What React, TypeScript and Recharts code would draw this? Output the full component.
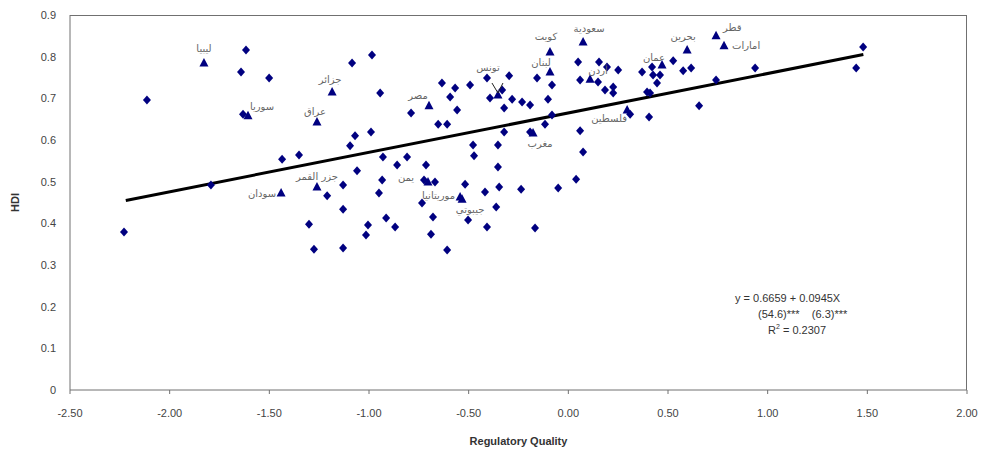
import React from 'react';
import { ScatterChart, Scatter, XAxis, YAxis } from 'recharts';

// Regulatory Quality (x) and HDI (y) for non-Arab countries
const otherRQ = [
  -2.114, -2.229, -1.793, -1.617, -1.642, -1.501, -1.632, -1.085, -1.07, -1.095,
  -1.436, -1.351, -1.06, -1.21, -1.13, -1.13, -1.301, -1.276, -1.13,
  -0.985, -0.944, -0.634, -0.568, -0.593, -0.493, -0.789, -0.558, -0.653, -0.608,
  -0.99, -0.408, -0.297, -0.332, -0.393, -0.282, -0.232, -0.192, -0.322, -0.157,
  -0.102, -0.082, -0.082, -0.117, 0.049, 0.154, 0.059, 0.149, 0.059, -0.192,
  -0.322, -0.478, -0.353, -0.93, -0.859, -0.809, -0.714, -0.473, -0.353, 0.074,
  -0.934, -0.95, -0.724, -0.669, -0.518, -0.418, -0.347, -0.237, -0.051, 0.039,
  -0.734, -0.362, -0.679, -0.503, -1.005, -0.914, -0.167, -0.869, -1.015, -0.689,
  -0.608, -0.408,
  0.194, 0.25, 0.37, 0.42, 0.425, 0.46, 0.445, 0.526, 0.576, 0.616,
  0.225, 0.184, 0.225, 0.395, 0.41, 0.741, 0.937, 1.479, 1.444, 0.656,
  0.31, 0.405,
];
const otherHDI = [
  0.696, 0.379, 0.492, 0.816, 0.763, 0.749, 0.662, 0.785, 0.61, 0.586,
  0.554, 0.564, 0.526, 0.466, 0.492, 0.434, 0.398, 0.338, 0.341,
  0.804, 0.713, 0.737, 0.725, 0.703, 0.732, 0.665, 0.672, 0.638, 0.638,
  0.619, 0.749, 0.754, 0.72, 0.701, 0.698, 0.691, 0.684, 0.677, 0.749,
  0.698, 0.732, 0.66, 0.638, 0.787, 0.787, 0.744, 0.739, 0.622, 0.619,
  0.619, 0.588, 0.588, 0.559, 0.54, 0.559, 0.54, 0.562, 0.535, 0.571,
  0.504, 0.473, 0.504, 0.499, 0.494, 0.475, 0.487, 0.482, 0.485, 0.506,
  0.449, 0.439, 0.415, 0.408, 0.396, 0.413, 0.389, 0.391, 0.372, 0.374,
  0.336, 0.391,
  0.775, 0.768, 0.763, 0.775, 0.756, 0.756, 0.737, 0.79, 0.766, 0.773,
  0.727, 0.72, 0.713, 0.715, 0.713, 0.744, 0.773, 0.823, 0.773, 0.682,
  0.662, 0.655,
];

// Arab countries
const arabNames = [
  'ليبيا', 'سوريا', 'عراق', 'جزائر', 'سودان', 'جزر القمر', 'مصر', 'تونس',
  'كويت', 'لبنان', 'سعودية', 'أردن', 'فلسطين', 'مغرب', 'يمن', 'موريتانيا',
  'جيبوتي', 'عمان', 'بحرين', 'قطر', 'امارات',
];
const arabRQ = [
  -1.828, -1.607, -1.261, -1.185, -1.441, -1.261, -0.699, -0.353,
  -0.092, -0.092, 0.074, 0.109, 0.295, -0.177, -0.704, -0.543,
  -0.533, 0.47, 0.596, 0.741, 0.781,
];
const arabHDI = [
  0.785, 0.658, 0.643, 0.715, 0.473, 0.487, 0.682, 0.708,
  0.811, 0.763, 0.835, 0.746, 0.672, 0.617, 0.499, 0.463,
  0.458, 0.78, 0.816, 0.85, 0.826,
];

// fitted line end points as drawn
const trendRQ = [-2.22, 1.48];
const trendHDI = [0.455, 0.805];

const xTicks = [-2.5, -2, -1.5, -1, -0.5, 0, 0.5, 1, 1.5, 2];
const yTicks = [0, 0.1, 0.2, 0.3, 0.4, 0.5, 0.6, 0.7, 0.8, 0.9];

const otherData = otherRQ.map((x, i) => ({ x, y: otherHDI[i] }));
const arabData = arabNames.map((name, i) => ({ name, x: arabRQ[i], y: arabHDI[i] }));
const trendData = trendRQ.map((x, i) => ({ x, y: trendHDI[i] }));

// label placement next to each triangle (px)
const labelPlace: Record<string, { dx: number; dy: number; anchor: 'start' | 'middle' | 'end' }> = {
  'ليبيا': { dx: 0, dy: -14, anchor: 'middle' },
  'سوريا': { dx: 14, dy: -9, anchor: 'middle' },
  'عراق': { dx: -2, dy: -11, anchor: 'middle' },
  'جزائر': { dx: -2, dy: -13, anchor: 'middle' },
  'سودان': { dx: -5, dy: 1, anchor: 'end' },
  'جزر القمر': { dx: 0, dy: -11, anchor: 'middle' },
  'مصر': { dx: -11, dy: -10, anchor: 'middle' },
  'تونس': { dx: -10, dy: -28, anchor: 'middle' },
  'كويت': { dx: -4, dy: -16, anchor: 'middle' },
  'لبنان': { dx: -9, dy: -10, anchor: 'middle' },
  'سعودية': { dx: 6, dy: -14, anchor: 'middle' },
  'أردن': { dx: 8, dy: -9, anchor: 'middle' },
  'فلسطين': { dx: -18, dy: 8, anchor: 'middle' },
  'مغرب': { dx: 7, dy: 11, anchor: 'middle' },
  'يمن': { dx: -22, dy: -5, anchor: 'middle' },
  'موريتانيا': { dx: -5, dy: -2, anchor: 'end' },
  'جيبوتي': { dx: 8, dy: 10, anchor: 'middle' },
  'عمان': { dx: -8, dy: -8, anchor: 'middle' },
  'بحرين': { dx: -4, dy: -14, anchor: 'middle' },
  'قطر': { dx: 7, dy: -8, anchor: 'start' },
  'امارات': { dx: 8, dy: 0, anchor: 'start' },
};

const NAVY = '#000080';
const FRAME = '#707070';
const FONT = '"Liberation Sans", "DejaVu Sans", Arial, sans-serif';

const Diamond = (p: any) => (
  <polygon
    points={`${p.cx},${p.cy - 4.5} ${p.cx + 4},${p.cy} ${p.cx},${p.cy + 4.5} ${p.cx - 4},${p.cy}`}
    fill={NAVY}
  />
);

const Triangle = (p: any) => {
  const pl = labelPlace[p.payload.name] || { dx: 0, dy: -12, anchor: 'middle' };
  return (
    <g>
      <polygon
        points={`${p.cx},${p.cy - 5} ${p.cx + 4.5},${p.cy + 3.5} ${p.cx - 4.5},${p.cy + 3.5}`}
        fill={NAVY}
      />
      {p.payload.name === 'تونس' && (
        <path d={`M${p.cx - 6},${p.cy - 12} L${p.cx},${p.cy - 2} L${p.cx + 5},${p.cy - 12}`} stroke="#222" strokeWidth={1} fill="none" />
      )}
      <text
        x={p.cx + pl.dx}
        y={p.cy + pl.dy}
        textAnchor={pl.anchor}
        dominantBaseline="central"
        fontSize={10}
        fill="#666"
        style={{ fontFamily: '"DejaVu Sans", sans-serif' }}
      >
        {p.payload.name}
      </text>
    </g>
  );
};

const NoDot = () => <g />;

const eqStyle: React.CSSProperties = {
  position: 'absolute',
  fontFamily: FONT,
  fontSize: 11,
  color: '#333',
  whiteSpace: 'pre',
  lineHeight: '14px',
};

export default function App() {
  return (
    <div style={{ position: 'absolute', left: 0, top: 0, width: 986, height: 454, background: '#fff' }}>
      <ScatterChart width={986} height={454} margin={{ top: 15, right: 19, bottom: 4, left: 0 }}>
        <XAxis
          type="number"
          dataKey="x"
          domain={[-2.5, 2]}
          ticks={xTicks}
          tickFormatter={(v: number) => v.toFixed(2)}
          height={60}
          stroke={FRAME}
          tickSize={4}
          tickMargin={15}
          tick={{ fontSize: 11, fill: '#444', fontFamily: FONT }}
          label={{
            value: 'Regulatory Quality',
            position: 'insideBottom',
            offset: 5,
            style: { fontSize: 11, fontWeight: 'bold', fill: '#333', fontFamily: FONT },
          }}
        />
        <YAxis
          type="number"
          dataKey="y"
          domain={[0, 0.9]}
          ticks={yTicks}
          tickFormatter={(v: number) => (v === 0 ? '0' : v.toFixed(1))}
          width={70}
          stroke={FRAME}
          tickLine={false}
          tickSize={6}
          tickMargin={8}
          tick={{ fontSize: 11, fill: '#444', fontFamily: FONT }}
          label={{
            value: 'HDI',
            angle: -90,
            position: 'insideLeft',
            offset: 15,
            style: { textAnchor: 'middle', fontSize: 11, fontWeight: 'bold', fill: '#333', fontFamily: FONT },
          }}
        />
        <Scatter
          data={trendData}
          line={{ stroke: '#000', strokeWidth: 3 }}
          shape={NoDot}
          isAnimationActive={false}
        />
        <Scatter data={otherData} shape={Diamond} isAnimationActive={false} />
        <Scatter data={arabData} shape={Triangle} isAnimationActive={false} />
      </ScatterChart>
      {/* plot-area frame: top and right edges */}
      <div style={{ position: 'absolute', left: 70, top: 15, width: 897, height: 0, borderTop: `1px solid ${FRAME}` }} />
      <div style={{ position: 'absolute', left: 966, top: 15, width: 0, height: 375, borderLeft: `1px solid ${FRAME}` }} />
      <div style={{ ...eqStyle, left: 735, top: 291 }}>y = 0.6659 + 0.0945X</div>
      <div style={{ ...eqStyle, left: 758, top: 307 }}>{'(54.6)***    (6.3)***'}</div>
      <div style={{ ...eqStyle, left: 768, top: 323 }}>
        R<sup style={{ fontSize: 7, verticalAlign: 'super', lineHeight: 0 }}>2</sup> = 0.2307
      </div>
    </div>
  );
}
